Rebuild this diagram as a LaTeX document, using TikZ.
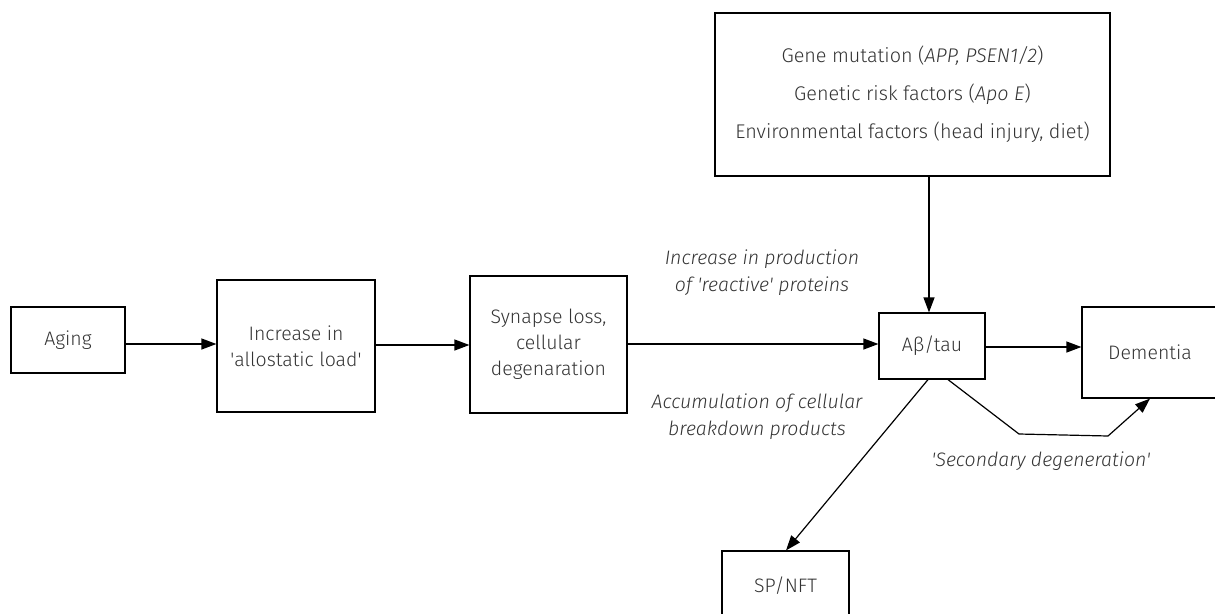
\documentclass[tikz,border=0pt]{standalone}
\usepackage{fontspec}
\setmainfont{Fira Sans Light}[ItalicFont=Fira Sans Light Italic]
\usetikzlibrary{arrows.meta}
\newcommand{\sq}{\textquotesingle}
\begin{document}
\begin{tikzpicture}[x=1pt,y=-1pt,
  txt/.style={text=black!80,font=\fontsize{19.5}{26}\selectfont},
  boxnode/.style={draw,line width=1.2pt,txt,align=center,inner sep=0pt},
  lbl/.style={txt,align=center,font=\fontsize{19.5}{27}\itshape\selectfont},
  arr/.style={line width=1.2pt,-{Triangle[length=15pt,width=11pt]}}]
\useasboundingbox (0,0) rectangle (1215,613);
\node[boxnode,minimum width=114pt,minimum height=66pt] (aging) at (68,340) {Aging};
\node[boxnode,minimum width=158pt,minimum height=132pt] (allo) at (296,346) {Increase in\\\sq allostatic load\sq};
\node[boxnode,minimum width=157pt,minimum height=137pt] (syn) at (548.5,344.5) {Synapse loss,\\cellular\\degenaration};
\node[boxnode,minimum width=395pt,minimum height=163pt,font=\fontsize{19.8}{38}\selectfont] (top) at (912.5,94.5) {Gene mutation (\textit{APP, PSEN1/2})\\Genetic risk factors (\textit{Apo E})\\Environmental factors (head injury, diet)};
\node[boxnode,minimum width=106pt,minimum height=66pt] (ab) at (932,346) {Aβ/tau};
\node[boxnode,minimum width=136pt,minimum height=91pt] (dem) at (1150,352.5) {Dementia};
\node[boxnode,minimum width=127pt,minimum height=70pt] (sp) at (785.5,586) {SP/NFT};
\draw[arr] (aging.east|-0,344) -- (allo.west|-0,344);
\draw[arr] (allo.east|-0,345) -- (syn.west|-0,345);
\draw[arr] (syn.east|-0,344) -- (ab.west|-0,344);
\draw[arr] (top.south-|929,0) -- (ab.north-|929,0);
\draw[arr] (ab.east|-0,347) -- (dem.west|-0,347);
\coordinate (sa) at (928,380);
\coordinate (sb) at (786,550);
\draw[arr] (ab.south-|sa) -- (sp.north-|sb);
\coordinate (c1) at (1019,434);
\coordinate (c2) at (1108,436);
\draw[arr] (ab.south-|948,0) -- (c1) -- (c2) -- (dem.south-|1150,0);
\node[lbl] (l1) at (762,273) {Increase in production\\of \sq reactive\sq{} proteins};
\node[lbl] (l2) at (757,417) {Accumulation of cellular\\breakdown products};
\node[lbl] (l3) at (1041,461) {\sq Secondary degeneration\sq};
\end{tikzpicture}
\end{document}
